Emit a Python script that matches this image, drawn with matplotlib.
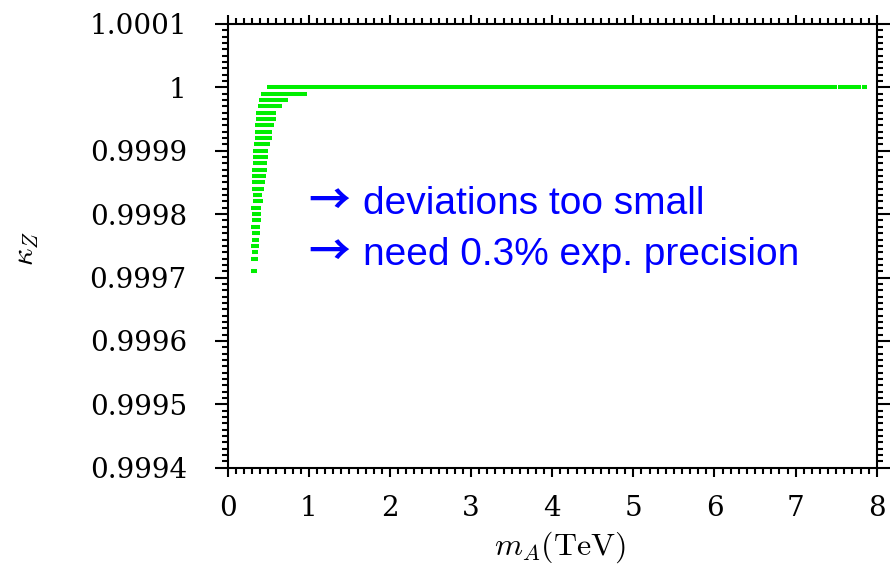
import matplotlib
matplotlib.use("Agg")
import matplotlib.pyplot as plt
from matplotlib.ticker import MultipleLocator, FuncFormatter

plt.rcParams['mathtext.fontset'] = 'cm'

# kappa_Z scan: each row is a horizontal band of scan points at fixed kappa_Z
kappa_z = [1.0, 1.0, 1.0,
           0.99999, 0.99998, 0.99997, 0.99996, 0.99995, 0.99994, 0.99993,
           0.99992, 0.99991, 0.99990, 0.99989, 0.99988, 0.99987, 0.99986,
           0.99985, 0.99984, 0.99983, 0.99982, 0.99981, 0.99980, 0.99979,
           0.99978, 0.99977, 0.99976, 0.99975, 0.99974, 0.99973, 0.99971]
ma_min = [0.486, 7.525, 7.82,
          0.404, 0.388, 0.367, 0.354, 0.346, 0.342, 0.333, 0.333, 0.326,
          0.317, 0.314, 0.309, 0.305, 0.305, 0.301, 0.301, 0.309, 0.309,
          0.289, 0.296, 0.296, 0.289, 0.296, 0.296, 0.289, 0.305, 0.289,
          0.289]
ma_max = [7.51, 7.80, 7.886,
          0.972, 0.746, 0.667, 0.598, 0.589, 0.568, 0.540, 0.540, 0.515,
          0.502, 0.502, 0.490, 0.481, 0.474, 0.457, 0.453, 0.425, 0.432,
          0.416, 0.416, 0.404, 0.395, 0.395, 0.383, 0.383, 0.375, 0.367,
          0.363]

notes = ['deviations too small', 'need 0.3% exp. precision']
note_y = [0.99980, 0.99972]

fig = plt.figure(figsize=(8.92, 5.70), dpi=100)
ax = fig.add_axes([0.2553, 0.1795, 0.7276, 0.7784])

ax.hlines(kappa_z, ma_min, ma_max, colors='#00ee00', linewidth=2.9,
          capstyle='butt')

# bullet arrow + note text
for txt, yv in zip(notes, note_y):
    ax.text(0.99, yv, '\u2192', color='#0000ff', fontsize=30, va='baseline',
            fontweight='bold', family=['Noto Sans CJK SC', 'DejaVu Sans'])
    ax.text(1.668, yv, txt, color='#0000ff', fontsize=28, va='baseline',
            family=['Liberation Sans', 'DejaVu Sans'])

ax.set_xlim(0, 8)
ax.set_ylim(0.9994, 1.0001)
ax.xaxis.set_major_locator(MultipleLocator(1))
ax.xaxis.set_minor_locator(MultipleLocator(0.1))
ax.yaxis.set_major_locator(MultipleLocator(0.0001))
ax.yaxis.set_minor_locator(MultipleLocator(0.00001))
ax.yaxis.set_major_formatter(FuncFormatter(lambda v, p: f'{v:g}'))

for s in ax.spines.values():
    s.set_linewidth(1.5)
ax.tick_params(which='both', direction='out', top=True, right=True, width=1.5)
ax.tick_params(axis='x', which='major', length=6.5, pad=13)
ax.tick_params(axis='y', which='major', length=9.5, pad=20)
ax.tick_params(which='minor', length=4)
for lab in ax.get_xticklabels() + ax.get_yticklabels():
    lab.set_family('DejaVu Serif')
    lab.set_fontsize(20)

ax.set_xlabel(r'$m_A(\mathrm{TeV})$', fontsize=23)
ax.xaxis.set_label_coords(0.512, -0.14)
ax.set_ylabel(r'$\kappa_Z$', fontsize=22)
ax.yaxis.set_label_coords(-0.288, 0.495)

fig.savefig('out.png', dpi=100)
